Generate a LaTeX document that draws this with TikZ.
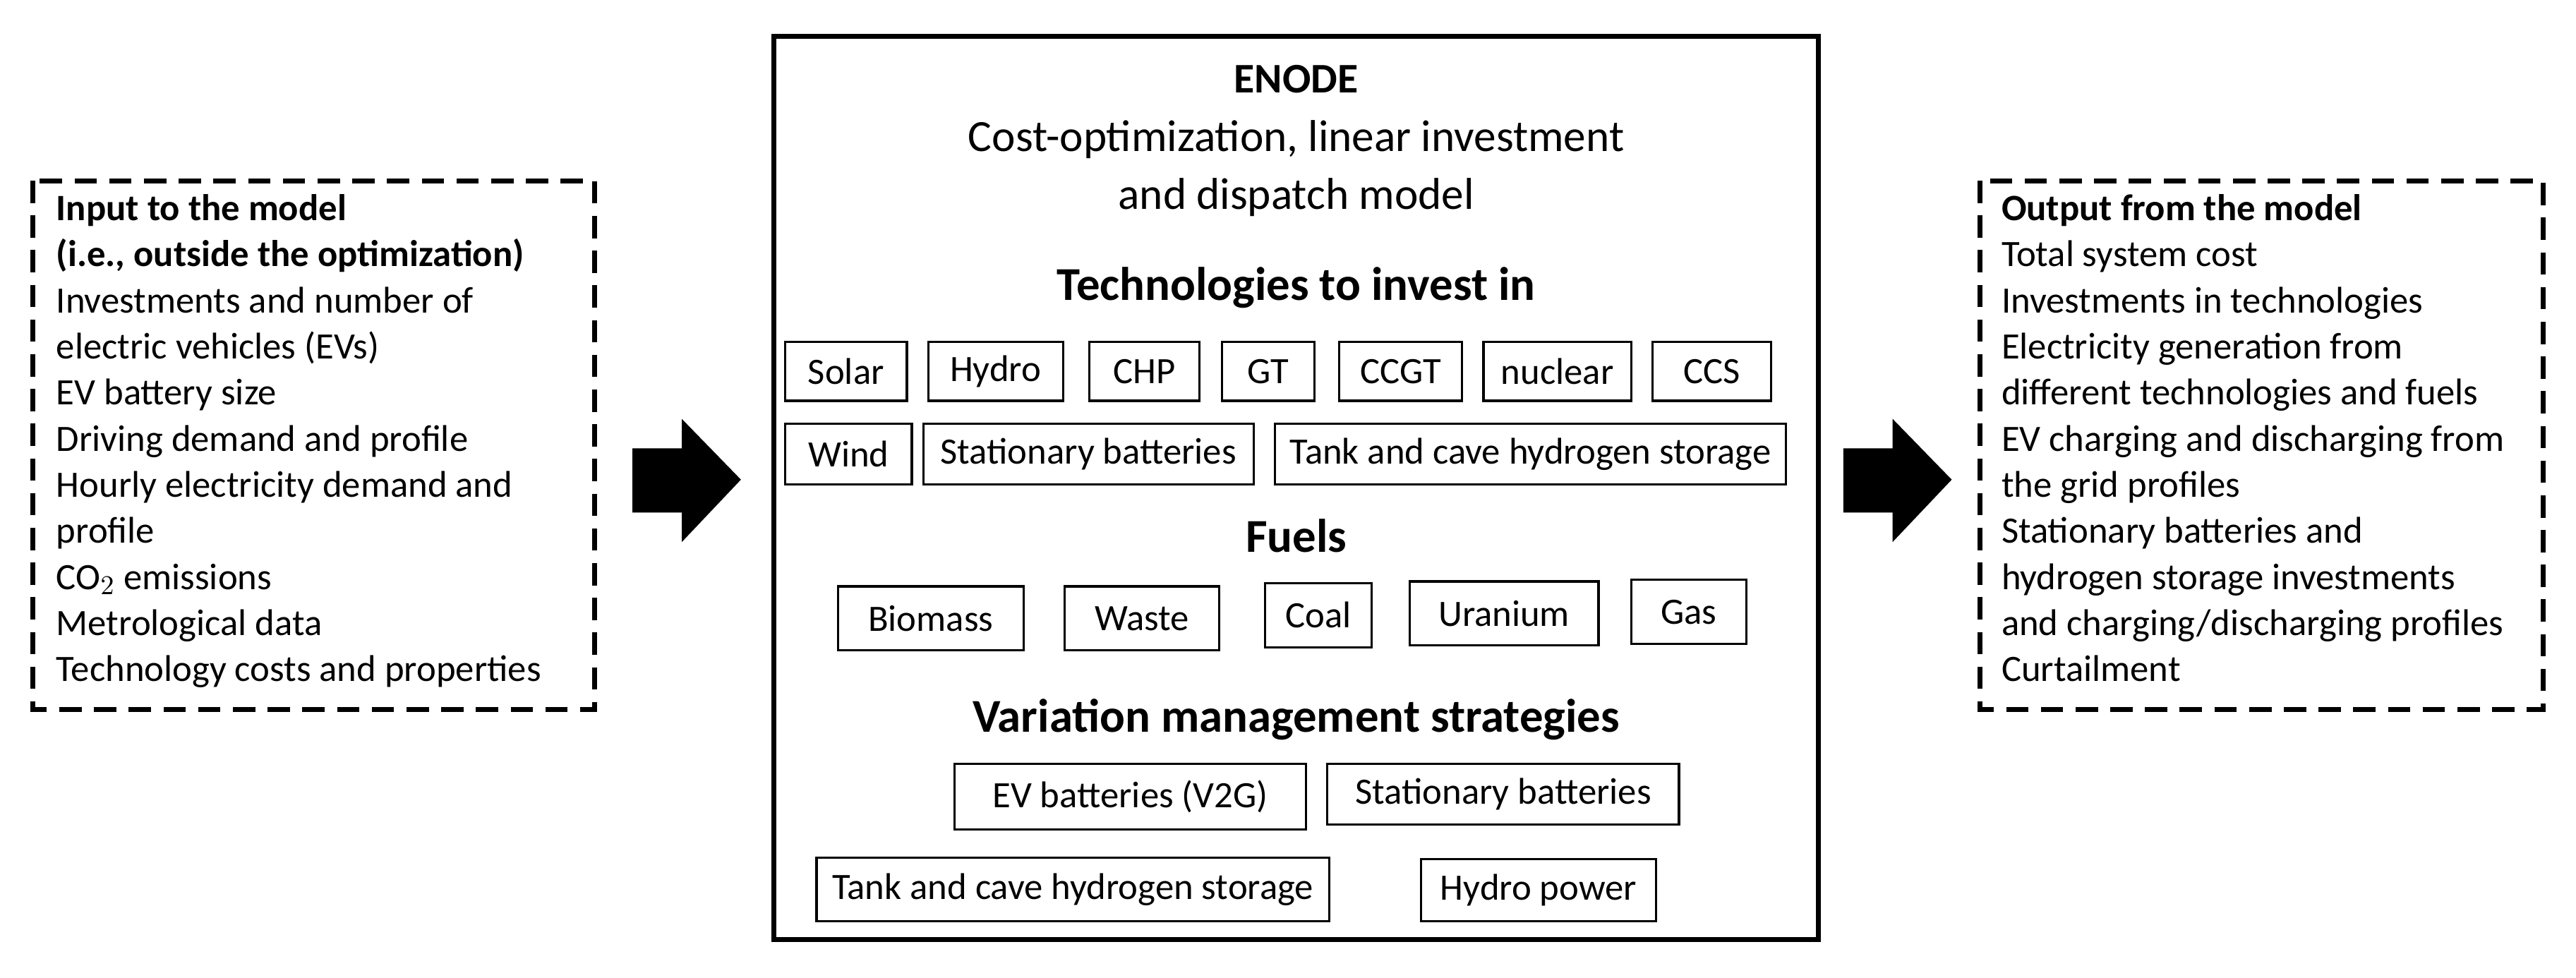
\documentclass[tikz,border=0pt]{standalone}
\usepackage{fontspec}
\setmainfont{Carlito}
\begin{document}
\begin{tikzpicture}[x=0.02328cm,y=-0.02328cm,
  tb/.style={draw,line width=0.9pt,minimum height=0.84cm,inner sep=0pt,font=\fontsize{15}{18}\selectfont},
  lst/.style={anchor=north west,align=left,inner sep=0pt,font=\fontsize{15}{18.6}\selectfont},
  ttl/.style={font=\bfseries\fontsize{19}{22}\selectfont},
  blk/.style={fill=black}]
\useasboundingbox (0,0) rectangle (1568,595.4);
% side boxes
\draw[dashed,line width=2pt,dash pattern=on 9pt off 5pt] (20,110) rectangle (362,432);
\draw[dashed,line width=2pt,dash pattern=on 9pt off 5pt] (1205,110) rectangle (1548,432);
\node[lst] (in) at (34,118) {\textbf{Input to the model}\\\textbf{(i.e., outside the optimization)}\\Investments and number of\\electric vehicles (EVs)\\EV battery size\\Driving demand and profile\\Hourly electricity demand and\\profile\\CO$_2$ emissions\\Metrological data\\Technology costs and properties};
\node[lst] (out) at (1218,118) {\textbf{Output from the model}\\Total system cost\\Investments in technologies\\Electricity generation from\\different technologies and fuels\\EV charging and discharging from\\the grid profiles\\Stationary batteries and\\hydrogen storage investments\\and charging/discharging profiles\\Curtailment};
% arrows
\fill[blk] (385,273) -- (415,273) -- (415,255) -- (451,292) -- (415,330) -- (415,312) -- (385,312) -- cycle;
\fill[blk] (1122,273) -- (1152,273) -- (1152,255) -- (1188,292) -- (1152,330) -- (1152,312) -- (1122,312) -- cycle;
% main box
\draw[line width=2pt] (471,22) rectangle (1107,572);
\node[font=\bfseries\fontsize{17}{20}\selectfont] (en) at (789,48) {ENODE};
\node[font=\fontsize{18}{20}\selectfont] (c1) at (789,85) {Cost-optimization, linear investment};
\node[font=\fontsize{18}{20}\selectfont] (c2) at (789,120) {and dispatch model};
\node[ttl] (t1) at (789,175) {Technologies to invest in};
\node[ttl] (t2) at (789,326) {Fuels};
\node[ttl] (t3) at (789,438) {Variation management strategies};
\newcommand{\bx}[6]{\node[tb,minimum width={(#3-#2)*0.02328cm},minimum height={(#5-#4)*0.02328cm}] (#1) at ({(#2+#3)/2},{(#4+#5)/2}) {#6};}
\bx{so}{478}{552}{208}{244}{Solar}
\bx{hy}{565}{647}{208}{244}{Hydro}
\bx{ch}{663}{730}{208}{244}{CHP}
\bx{gt}{744}{800}{208}{244}{GT}
\bx{cc}{815}{890}{208}{244}{CCGT}
\bx{nu}{903}{993}{208}{244}{nuclear}
\bx{cs}{1006}{1078}{208}{244}{CCS}
\bx{wi}{478}{555}{258}{295}{Wind}
\bx{sb}{562}{763}{258}{295}{Stationary batteries}
\bx{th}{776}{1087}{258}{295}{Tank and cave hydrogen storage}
\bx{bi}{510}{623}{357}{396}{Biomass}
\bx{wa}{648}{742}{357}{396}{Waste}
\bx{co}{770}{835}{355}{394}{Coal}
\bx{ur}{858}{973}{354}{393}{Uranium}
\bx{ga}{993}{1063}{353}{392}{Gas}
\bx{ev}{581}{795}{465}{505}{EV batteries (V2G)}
\bx{sb2}{808}{1022}{465}{502}{Stationary batteries}
\bx{th2}{497}{809}{522}{561}{Tank and cave hydrogen storage}
\bx{hp}{865}{1008}{523}{561}{Hydro power}
\end{tikzpicture}
\end{document}
